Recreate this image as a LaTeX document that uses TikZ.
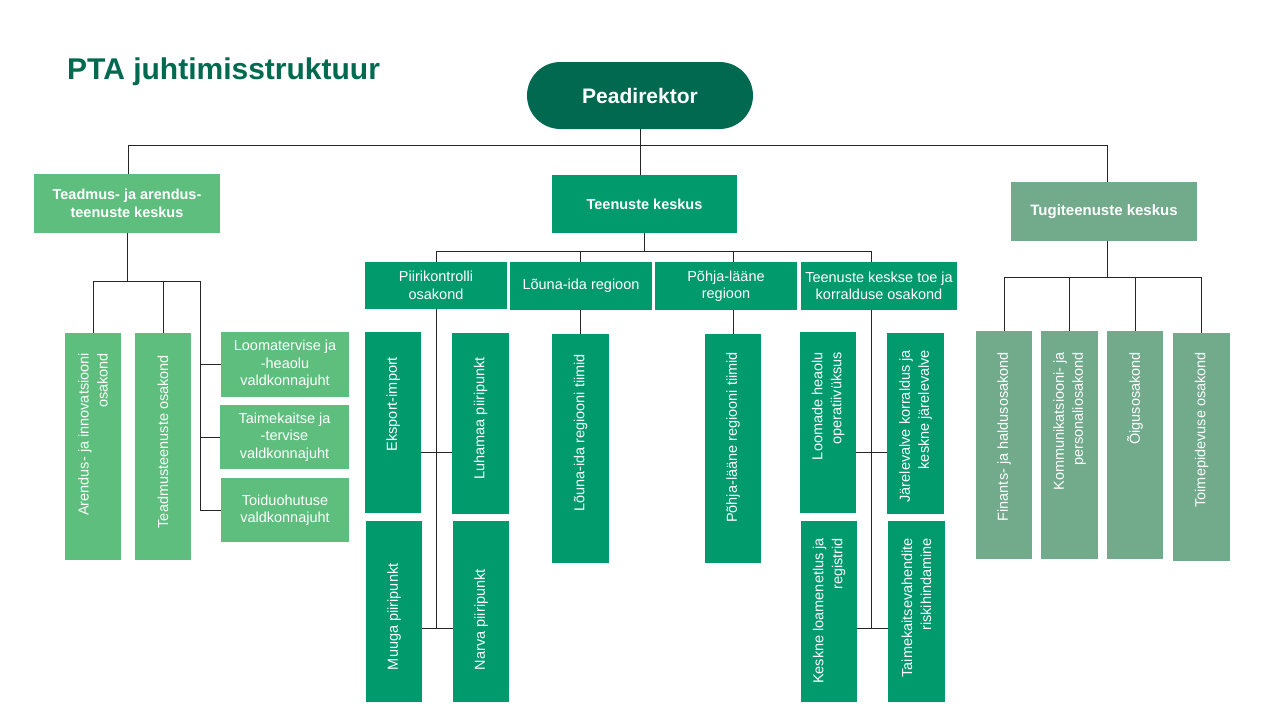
\documentclass[tikz,border=0pt]{standalone}
\usepackage{fontspec}
\setmainfont{Liberation Sans}
\usetikzlibrary{calc}
\definecolor{cpea}{HTML}{00694F}
\definecolor{ctitle}{HTML}{006A50}
\definecolor{clight}{HTML}{5EBE7D}
\definecolor{cmid}{HTML}{009A6D}
\definecolor{cgray}{HTML}{71AB8B}
\begin{document}
\begin{tikzpicture}[x=1pt,y=-1pt,
  box/.style={rectangle, inner sep=0pt, outer sep=0pt, text=white, align=center, font=\fontsize{14.5}{17.5}\selectfont},
  bbox/.style={box, font=\bfseries\fontsize{14.5}{17.5}\selectfont},
  vlab/.style={rotate=90, inner sep=0pt, outer sep=0pt, text=white, align=right, font=\fontsize{14.5}{19}\selectfont},
  conn/.style={draw=black!85, line width=1pt},
  vcol/.style={box, minimum width=56pt, minimum height=181pt},
]
\fill[white] (0,0) rectangle (1280,720);
\useasboundingbox (0,0) rectangle (1280,720);

% title and head
\node[anchor=base west, text=ctitle, inner sep=0pt, font=\bfseries\fontsize{30}{36}\selectfont] (title) at (67,79) {PTA juhtimisstruktuur};
\node[box, fill=cpea, minimum width=226pt, minimum height=67pt, rounded corners=33.5pt, font=\bfseries\fontsize{21}{24}\selectfont] (pea) at (640,95.5) {Peadirektor};

% top level
\node[bbox, fill=clight, minimum width=186pt, minimum height=59pt] (tak) at (127,203.5) {Teadmus- ja arendus-\\teenuste keskus};
\node[bbox, fill=cmid, minimum width=185pt, minimum height=58pt] (tk) at (644.5,204) {Teenuste keskus};
\node[bbox, fill=cgray, minimum width=186pt, minimum height=59pt, font=\bfseries\fontsize{15}{18}\selectfont] (tug) at (1104,211.5) {Tugiteenuste keskus};

% left group
\node[box, fill=clight, minimum width=56pt, minimum height=227pt] (are) at (93,446.5) {};
\node[vlab, anchor=east] (arel) at (93,353) {Arendus- ja innovatsiooni\\osakond};
\node[box, fill=clight, minimum width=56pt, minimum height=227pt] (tea) at (163,446.5) {};
\node[vlab, anchor=east] (teal) at (163,355) {Teadmusteenuste osakond};
\node[box, fill=clight, minimum width=128pt, minimum height=65pt] (loo) at (285,364.5) {Loomatervise ja\\-heaolu\\valdkonnajuht};
\node[box, fill=clight, minimum width=129pt, minimum height=64pt] (tai) at (284.5,437) {Taimekaitse ja\\-tervise\\valdkonnajuht};
\node[box, fill=clight, minimum width=128pt, minimum height=64pt] (toi) at (285,510) {Toiduohutuse\\valdkonnajuht};

% middle row
\node[box, fill=cmid, minimum width=142pt, minimum height=47pt] (piri) at (436,285.5) {Piirikontrolli\\osakond};
\node[box, fill=cmid, minimum width=142pt, minimum height=48pt] (lou) at (581,286) {Lõuna-ida regioon};
\node[box, fill=cmid, minimum width=142pt, minimum height=48pt] (poh) at (726,286) {Põhja-lääne\\regioon};
\node[box, fill=cmid, minimum width=156pt, minimum height=48pt] (tkt) at (879,286) {Teenuste keskse toe ja\\korralduse osakond};

% middle columns
\node[vcol, fill=cmid] (eksp) at (393,422.5) {};
\node[vlab, anchor=east] (ekspl) at (393,357) {Eksport-import};
\node[vcol, fill=cmid, minimum width=57pt] (luha) at (480.5,423) {};
\node[vlab, anchor=east] (luhal) at (480.5,357) {Luhamaa piiripunkt};
\node[vcol, fill=cmid] (muug) at (394,611.5) {};
\node[vlab, anchor=west] (muugl) at (394,670) {Muuga piiripunkt};
\node[vcol, fill=cmid] (narv) at (481,611.5) {};
\node[vlab, anchor=west] (narvl) at (481,670) {Narva piiripunkt};

\node[box, fill=cmid, minimum width=57pt, minimum height=229pt] (lout) at (580.5,448.5) {};
\node[vlab, anchor=east] (loutl) at (580.5,354) {Lõuna-ida regiooni tiimid};
\node[box, fill=cmid, minimum width=56pt, minimum height=229pt] (poht) at (733,448.5) {};
\node[vlab, anchor=east] (pohtl) at (733,352) {Põhja-lääne regiooni tiimid};

\node[vcol, fill=cmid] (loomh) at (828,422.5) {};
\node[vlab, anchor=east] (loomhl) at (828,352) {Loomade heaolu\\operatiivüksus};
\node[vcol, fill=cmid, minimum width=57pt] (jare) at (915.5,423.5) {};
\node[vlab, anchor=east] (jarel) at (915.5,350) {Järelevalve korraldus ja\\keskne järelevalve};
\node[vcol, fill=cmid] (kesk) at (829,611.5) {};
\node[vlab, anchor=east] (keskl) at (829,538) {Keskne loamenetlus ja\\registrid};
\node[vcol, fill=cmid, minimum width=57pt] (taimv) at (916.5,611.5) {};
\node[vlab, anchor=east] (taimvl) at (916.5,538) {Taimekaitsevahendite\\riskihindamine};

% right group
\node[box, fill=cgray, minimum width=56pt, minimum height=228pt] (fin) at (1004,445) {};
\node[vlab, anchor=east] (finl) at (1004,352) {Finants- ja haldusosakond};
\node[box, fill=cgray, minimum width=57pt, minimum height=228pt] (kom) at (1069.5,445) {};
\node[vlab, anchor=east] (koml) at (1069.5,352) {Kommunikatsiooni- ja\\personaliosakond};
\node[box, fill=cgray, minimum width=56pt, minimum height=228pt] (oig) at (1135,445) {};
\node[vlab, anchor=east] (oigl) at (1135,352) {Õigusosakond};
\node[box, fill=cgray, minimum width=57pt, minimum height=228pt] (toim) at (1201.5,447) {};
\node[vlab, anchor=east] (toiml) at (1201.5,352) {Toimepidevuse osakond};

% connectors: top
\coordinate (h1) at (128,145);
\coordinate (h2) at (1107,145);
\draw[conn] (h1) -- (h2);
\draw[conn] (h1) -- (h1 |- tak.north);
\draw[conn] (h2) -- (h2 |- tug.north);
\draw[conn] (pea.south) -- (pea.south |- tk.north);

% connectors: left
\coordinate (lb) at (200,281);
\draw[conn] (tak.south) -- (tak.south |- lb);
\draw[conn] (are.north |- lb) -- (lb) -- (lb |- toi.west);
\draw[conn] (are.north |- lb) -- (are.north);
\draw[conn] (tea.north |- lb) -- (tea.north);
\draw[conn] (lb |- loo.west) -- (loo.west);
\draw[conn] (lb |- tai.west) -- (tai.west);
\draw[conn] (lb |- toi.west) -- (toi.west);

% connectors: middle
\coordinate (mr) at (871,251);
\draw[conn] (tk.south) -- (tk.south |- mr);
\draw[conn] (piri.north |- mr) -- (mr);
\draw[conn] (piri.north |- mr) -- (piri.north);
\draw[conn] (lout.north |- mr) -- (lout.north |- lou.north);
\draw[conn] (poht.north |- mr) -- (poht.north |- poh.north);
\draw[conn] (mr) -- (mr |- tkt.north);
\draw[conn] (lout.north |- lou.south) -- (lout.north);
\draw[conn] (poht.north |- poh.south) -- (poht.north);

\coordinate (p1) at (436,452);
\coordinate (p2) at (436,628);
\draw[conn] (piri.south) -- (p2);
\draw[conn] (eksp.east |- p1) -- (luha.west |- p1);
\draw[conn] (muug.east |- p2) -- (narv.west |- p2);

\coordinate (q1) at (871,452);
\coordinate (q2) at (871,628);
\draw[conn] (q1 |- tkt.south) -- (q2);
\draw[conn] (loomh.east |- q1) -- (jare.west |- q1);
\draw[conn] (kesk.east |- q2) -- (taimv.west |- q2);

% connectors: right
\coordinate (rj) at (1107,277);
\draw[conn] (rj |- tug.south) -- (rj);
\draw[conn] (fin.north |- rj) -- (toim.north |- rj);
\draw[conn] (fin.north |- rj) -- (fin.north);
\draw[conn] (kom.north |- rj) -- (kom.north);
\draw[conn] (oig.north |- rj) -- (oig.north);
\draw[conn] (toim.north |- rj) -- (toim.north);
\end{tikzpicture}
\end{document}
